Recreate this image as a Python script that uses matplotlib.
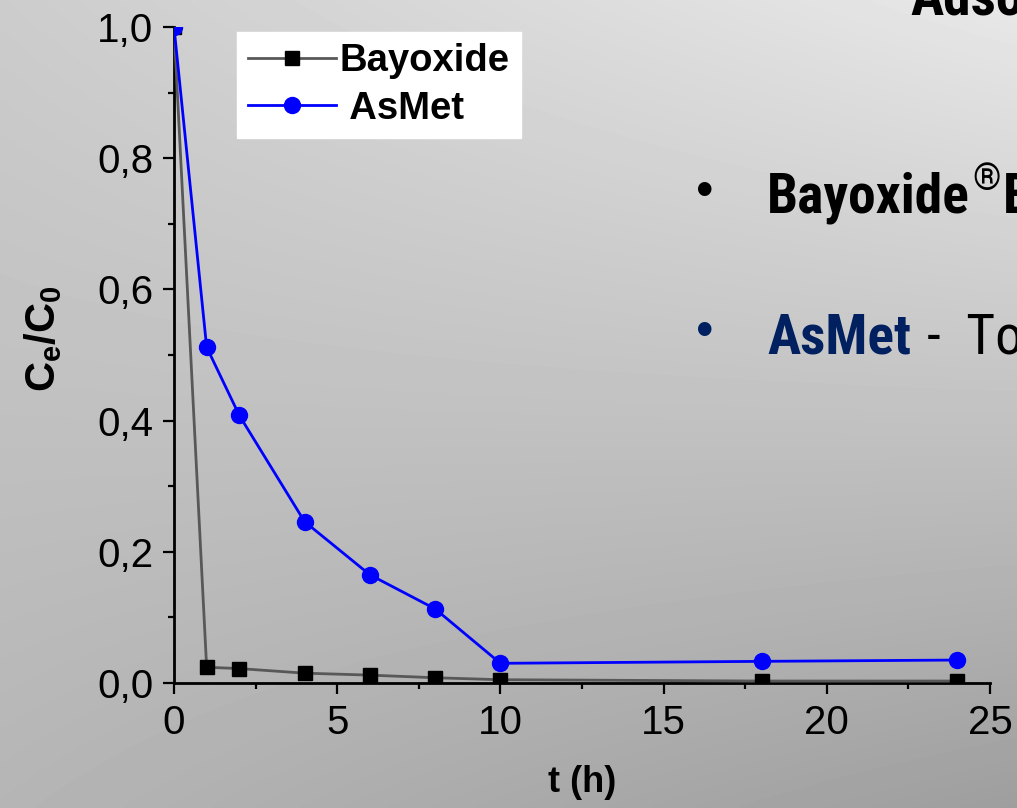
import numpy as np
import matplotlib
matplotlib.use("Agg")
import matplotlib.pyplot as plt
from matplotlib.ticker import MultipleLocator, FixedFormatter, FixedLocator

plt.rcParams['font.family'] = ['Liberation Sans', 'DejaVu Sans']
plt.rcParams['mathtext.fontset'] = 'custom'
plt.rcParams['mathtext.rm'] = 'Liberation Sans'
plt.rcParams['mathtext.bf'] = 'Liberation Sans:bold'
plt.rcParams['mathtext.it'] = 'Liberation Sans:italic'

# ---- data ----
t_bayoxide = [0, 1, 2, 4, 6, 8, 10, 18, 24]
c_bayoxide = [1.0, 0.024, 0.022, 0.015, 0.012, 0.008, 0.005, 0.003, 0.003]
t_asmet = [0, 1, 2, 4, 6, 8, 10, 18, 24]
c_asmet = [1.0, 0.512, 0.408, 0.246, 0.165, 0.113, 0.030, 0.033, 0.035]
x_ticks = [0, 5, 10, 15, 20, 25]
x_ticklabels = ['0', '5', '10', '15', '20', '25']
y_ticks = [0.0, 0.2, 0.4, 0.6, 0.8, 1.0]
y_ticklabels = ['0,0', '0,2', '0,4', '0,6', '0,8', '1,0']
series_labels = ['Bayoxide', ' AsMet']

W, H = 1017, 808
fig = plt.figure(figsize=(W / 100, H / 100), dpi=100)

# gradient background
bg = fig.add_axes([0, 0, 1, 1], zorder=-10)
yy, xx = np.mgrid[0:1:200j, 0:1:200j]  # yy: 0 top -> 1 bottom
tl, tr, bl, br = 0.80, 0.91, 0.71, 0.62
val = (tl * (1 - xx) * (1 - yy) + tr * xx * (1 - yy) + bl * (1 - xx) * yy + br * xx * yy)
bg.imshow(val, cmap='gray', vmin=0, vmax=1, aspect='auto', extent=[0, 1, 1, 0], interpolation='bilinear')
bg.set_axis_off()

# main axes
left = 174 / W
bottom = 1 - 683 / H
width = (990 - 174) / W
height = (683 - 27) / H
ax = fig.add_axes([left, bottom, width, height])
ax.set_facecolor('none')

ax.plot(t_bayoxide, c_bayoxide, color='#585858', lw=2, marker='s', ms=10.5,
        mfc='black', mec='black', label=series_labels[0], zorder=3)
ax.plot(t_asmet, c_asmet, color='#0000ff', lw=2, marker='o', ms=11.5,
        mfc='#0000ff', mec='#0000ff', label=series_labels[1], zorder=4)

ax.set_xlim(0, 25)
ax.set_ylim(0, 1.0)
ax.xaxis.set_major_locator(FixedLocator(x_ticks))
ax.xaxis.set_major_formatter(FixedFormatter(x_ticklabels))
ax.xaxis.set_minor_locator(MultipleLocator(2.5))
ax.yaxis.set_major_locator(FixedLocator(y_ticks))
ax.yaxis.set_major_formatter(FixedFormatter(y_ticklabels))
ax.yaxis.set_minor_locator(MultipleLocator(0.1))

for s in ['top', 'right']:
    ax.spines[s].set_visible(False)
for s in ['left', 'bottom']:
    ax.spines[s].set_linewidth(2)
    ax.spines[s].set_color('black')

ax.tick_params(which='major', direction='out', length=8, width=1.6, labelsize=29, colors='black')
ax.tick_params(which='minor', direction='out', length=4, width=1.6)
ax.tick_params(axis='y', which='major', pad=7)
ax.tick_params(axis='x', which='major', pad=7)

ax.set_xlabel('t (h)', fontsize=26, fontweight='bold')
ax.xaxis.set_label_coords(0.5, -0.125)
ax.set_ylabel(r'$\mathbf{C_e/C_0}$', fontsize=30)
ax.yaxis.set_label_coords(-0.135, 0.525)

leg = ax.legend(loc='upper left', bbox_to_anchor=(0.077, 0.993), borderaxespad=0,
                prop={'family': 'Liberation Sans', 'weight': 'bold', 'size': 27.5},
                frameon=True, fancybox=False, framealpha=1, facecolor='white',
                edgecolor='white', handlelength=2.3, handletextpad=0.1,
                labelspacing=0.3, borderpad=0.3)

# overlay slide text (narrow font, like Arial Narrow)
NARROW = ['Roboto Condensed', 'Archivo Narrow', 'Liberation Sans', 'DejaVu Sans']
fig.canvas.draw()
rend = fig.canvas.get_renderer()

def right_px(txt):
    return txt.get_window_extent(rend).x1

fig.text(910 / W, 1 - 15 / H, 'Adsorção', fontsize=40, fontweight='bold', family=NARROW,
         ha='left', va='baseline', color='black')
fig.text(705 / W, 1 - 193 / H, '•', fontsize=36, ha='center', va='center', color='black')
tb = fig.text(767 / W, 1 - 213 / H, 'Bayoxide', fontsize=40, fontweight='bold', family=NARROW,
              ha='left', va='baseline', color='black')
xr = right_px(tb)
tr_ = fig.text((xr + 2) / W, 1 - 190 / H, '®', fontsize=26, family=NARROW,
               ha='left', va='baseline', color='black')
xr2 = right_px(tr_)
fig.text((xr2 + 3) / W, 1 - 213 / H, 'E33', fontsize=40, fontweight='bold', family=NARROW,
         ha='left', va='baseline', color='black')

fig.text(705 / W, 1 - 333 / H, '•', fontsize=36, ha='center', va='center', color='#002060')
ta = fig.text(767 / W, 1 - 353 / H, 'AsMet', fontsize=40, fontweight='bold', family=NARROW,
              ha='left', va='baseline', color='#002060')
xa = right_px(ta)
fig.text((xa + 16) / W, 1 - 353 / H, '-  To', fontsize=40, family=NARROW,
         ha='left', va='baseline', color='black')

fig.savefig('out.png', dpi=100)
